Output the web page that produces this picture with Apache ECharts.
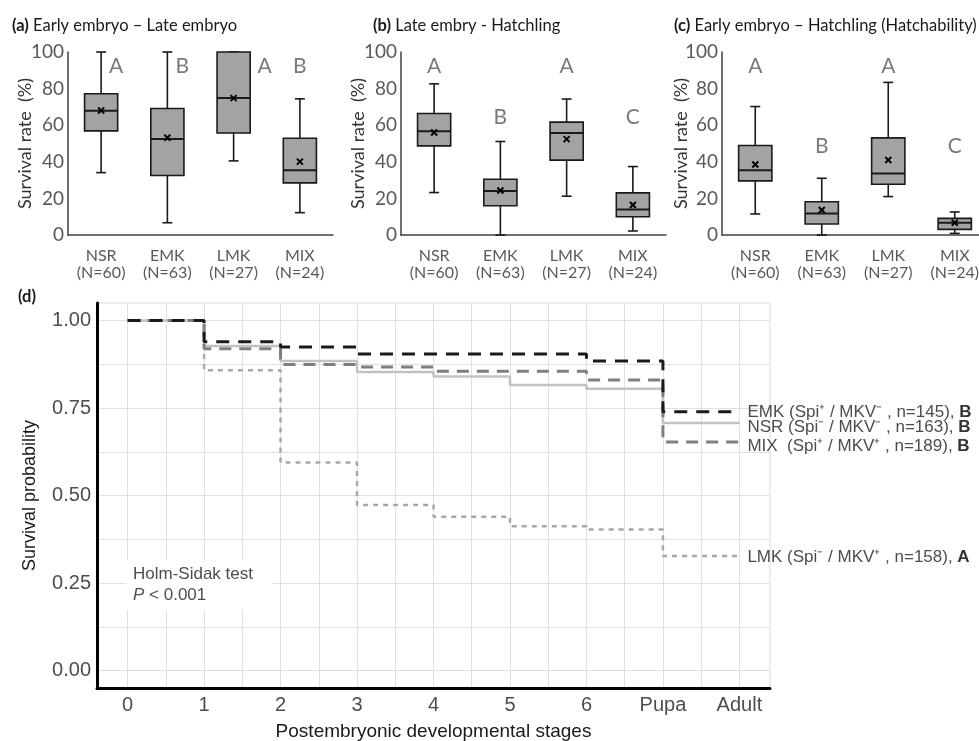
<!DOCTYPE html>
<html>
<head>
<meta charset="utf-8">
<script src="https://cdn.jsdelivr.net/npm/echarts@6/dist/echarts.min.js"></script>
<style>
  html, body { margin: 0; background: #fff; }
  #main { width: 979px; height: 741px; }
</style>
</head>
<body>
<div id="main"></div>
<script>
// groups shared by panels a-c
const groups = ['NSR', 'EMK', 'LMK', 'MIX'];
const groupN = [60, 63, 27, 24];

// box stats per group: [min, q1, median, q3, max]
const boxA = [[34.1, 56.9, 67.9, 77.2, 100], [6.7, 32.5, 52.4, 69.1, 100], [40.5, 55.7, 74.8, 100, 100], [12.2, 28.5, 35.4, 52.9, 74.4]];
const meanA = [68.0, 53.1, 74.8, 40.1];
const letterA = ['A', 'B', 'A', 'B'];
const letterYA = [92, 92, 92, 92];

const boxB = [[23.2, 48.7, 56.7, 66.4, 82.6], [0, 16.0, 24.1, 30.5, 51.1], [21.2, 40.9, 55.8, 61.7, 74.3], [2.2, 10.0, 13.9, 23.0, 37.4]];
const meanB = [56.0, 24.3, 52.4, 16.4];
const letterB = ['A', 'B', 'A', 'C'];
const letterYB = [92, 64.4, 92, 64.4];

const boxC = [[11.5, 29.6, 35.4, 48.9, 70.2], [0, 6.0, 11.7, 18.2, 31.0], [21.0, 27.7, 33.6, 53.1, 83.4], [0.9, 3.1, 6.7, 9.1, 12.6]];
const meanC = [38.5, 13.7, 41.0, 6.7];
const letterC = ['A', 'B', 'A', 'C'];
const letterYC = [92, 48.3, 92, 48.3];

// panel d: survival at each stage (value holds until next stage)
const stages = ['0', '1', '2', '3', '4', '5', '6', 'Pupa', 'Adult'];
const survEMK = [1, 0.939, 0.924, 0.904, 0.904, 0.904, 0.884, 0.739, 0.739];
const survNSR = [1, 0.927, 0.884, 0.853, 0.840, 0.816, 0.805, 0.707, 0.707];
const survMIX = [1, 0.919, 0.874, 0.867, 0.855, 0.855, 0.830, 0.653, 0.653];
const survLMK = [1, 0.858, 0.594, 0.473, 0.439, 0.412, 0.403, 0.327, 0.327];

const labelEMK = ['EMK (Spi⁺ / MKV⁻ , n=145), ', 'B'];
const labelNSR = ['NSR (Spi⁻ / MKV⁻ , n=163), ', 'B'];
const labelMIX = ['MIX  (Spi⁺ / MKV⁺ , n=189), ', 'B'];
const labelLMK = ['LMK (Spi⁻ / MKV⁺ , n=158), ', 'A'];

const chart = echarts.init(document.getElementById('main'));

const topFont = 'Lato';
const dFont = '"Liberation Sans", Arial';
// letters in panel a sit beside the whiskers
const letterShiftA = [15, 15, 31, 0];

function renderBox(params, api) {
  const idx = api.value(0);
  const lo = api.coord([idx, api.value(1)]);
  const q1 = api.coord([idx, api.value(2)]);
  const md = api.coord([idx, api.value(3)]);
  const q3 = api.coord([idx, api.value(4)]);
  const hi = api.coord([idx, api.value(5)]);
  const mn = api.coord([idx, api.value(6)]);
  const half = api.size([1, 0])[0] * 0.25;
  const cap = half * 0.3;
  const x = lo[0];
  const ln = { stroke: '#1a1a1a', lineWidth: 1.6 };
  return {
    type: 'group',
    children: [
      { type: 'line', shape: { x1: x, y1: hi[1], x2: x, y2: lo[1] }, style: ln },
      { type: 'line', shape: { x1: x - cap, y1: hi[1], x2: x + cap, y2: hi[1] }, style: ln },
      { type: 'line', shape: { x1: x - cap, y1: lo[1], x2: x + cap, y2: lo[1] }, style: ln },
      { type: 'rect', shape: { x: x - half, y: q3[1], width: half * 2, height: q1[1] - q3[1] },
        style: { fill: '#a3a3a3', stroke: '#1a1a1a', lineWidth: 1.6 } },
      { type: 'line', shape: { x1: x - half, y1: md[1], x2: x + half, y2: md[1] }, style: { stroke: '#1a1a1a', lineWidth: 2 } },
      { type: 'line', shape: { x1: mn[0] - 3, y1: mn[1] - 3, x2: mn[0] + 3, y2: mn[1] + 3 }, style: { stroke: '#000', lineWidth: 2 } },
      { type: 'line', shape: { x1: mn[0] - 3, y1: mn[1] + 3, x2: mn[0] + 3, y2: mn[1] - 3 }, style: { stroke: '#000', lineWidth: 2 } }
    ]
  };
}

const grids = [], xAxes = [], yAxes = [], series = [];

function boxPanel(i, left, width, nameGap, box, mean, letters, letterY, shift) {
  grids.push({ left: left, top: 52, width: width, height: 183, outerBoundsMode: 'none' });
  xAxes.push({
    type: 'category', gridIndex: i, data: groups,
    axisLine: { onZero: false, lineStyle: { color: '#404040', width: 1.5 } },
    axisTick: { show: false },
    axisLabel: {
      margin: 12, fontFamily: topFont, fontSize: 16, color: '#595959', lineHeight: 17,
      formatter: (v, k) => v + '\n(N=' + groupN[k] + ')'
    }
  });
  yAxes.push({
    type: 'value', gridIndex: i, min: 0, max: 100, interval: 20,
    name: 'Survival rate  (%)', nameLocation: 'middle', nameGap: nameGap, nameMoveOverlap: false,
    nameTextStyle: { fontFamily: topFont, fontSize: 18, color: '#333' },
    axisLine: { show: true, onZero: false, lineStyle: { color: '#404040', width: 1.5 } },
    axisTick: { show: false },
    splitLine: { show: false },
    axisLabel: { margin: 4, fontFamily: topFont, fontSize: 19, color: '#595959' }
  });
  series.push({
    type: 'custom', xAxisIndex: i, yAxisIndex: i, silent: true,
    renderItem: renderBox,
    encode: { x: 0, y: [1, 2, 3, 4, 5] },
    data: box.map((b, k) => [k].concat(b, [mean[k]]))
  });
  // significance letters
  series.push({
    type: 'custom', xAxisIndex: i, yAxisIndex: i, silent: true,
    encode: { x: 0, y: 1 },
    renderItem: (params, api) => {
      const p = api.coord([api.value(0), api.value(1)]);
      const k = params.dataIndex;
      return {
        type: 'text',
        style: {
          x: p[0] + (shift ? shift[k] : 0), y: p[1],
          text: letters[k], align: 'center', verticalAlign: 'middle',
          font: '21px Lato', fill: '#7a7a7a'
        }
      };
    },
    data: letterY.map((y, k) => [k, y])
  });
}

boxPanel(0, 68, 265, 34, boxA, meanA, letterA, letterYA, letterShiftA);
boxPanel(1, 401, 265, 34, boxB, meanB, letterB, letterYB, null);
boxPanel(2, 722, 266, 32, boxC, meanC, letterC, letterYC, null);

// panel d
grids.push({ left: 97, right: 209, top: 303, bottom: 53, outerBoundsMode: 'none', show: true, borderColor: '#d9d9d9', borderWidth: 1 });
const halfSteps = [], quarterY = [], eighthY = [];
for (let k = 0; k <= 16; k++) halfSteps.push(k / 2);
for (let k = 0; k <= 8; k++) eighthY.push(k / 8);
for (let k = 0; k <= 4; k++) quarterY.push(k / 4);

xAxes.push({
  type: 'value', gridIndex: 3, min: -0.4, max: 8.4,
  name: 'Postembryonic developmental stages', nameLocation: 'middle', nameGap: 34, nameMoveOverlap: false,
  nameTextStyle: { fontFamily: dFont, fontSize: 19, color: '#1a1a1a' },
  axisLine: { onZero: false, lineStyle: { color: '#000', width: 3 } },
  axisTick: { show: false, customValues: halfSteps },
  splitLine: { show: true, lineStyle: { color: '#e0e0e0', width: 1 } },
  axisLabel: {
    margin: 7, fontFamily: dFont, fontSize: 20, color: '#4d4d4d',
    customValues: [0, 1, 2, 3, 4, 5, 6, 7, 8],
    formatter: v => stages[Math.round(v)]
  }
});
yAxes.push({
  type: 'value', gridIndex: 3, min: -0.05, max: 1.05,
  name: 'Survival probability', nameLocation: 'middle', nameGap: 58, nameMoveOverlap: false,
  nameTextStyle: { fontFamily: dFont, fontSize: 18, color: '#1a1a1a' },
  axisLine: { show: true, onZero: false, lineStyle: { color: '#000', width: 3 } },
  axisTick: { show: false, customValues: eighthY },
  splitLine: { show: true, lineStyle: { color: '#e0e0e0', width: 1 } },
  axisLabel: {
    margin: 6, fontFamily: dFont, fontSize: 20, color: '#4d4d4d',
    customValues: quarterY,
    formatter: v => v.toFixed(2)
  }
});

function survLine(vals, color, width, dash, lbl, dy) {
  return {
    type: 'line', xAxisIndex: 3, yAxisIndex: 3, step: 'end', symbol: 'none', silent: true,
    lineStyle: { color: color, width: width, type: dash },
    data: vals.map((v, k) => [k, v]),
    endLabel: {
      show: true, distance: 8, offset: [0, dy],
      formatter: () => '{n|' + lbl[0] + '}{b|' + lbl[1] + '}',
      rich: {
        n: { fontFamily: dFont, fontSize: 17, color: '#4d4d4d' },
        b: { fontFamily: dFont, fontSize: 17, color: '#333', fontWeight: 'bold' }
      }
    }
  };
}

series.push(survLine(survLMK, '#a8a8a8', 2.5, [5, 5], labelLMK, 1));
series.push(survLine(survNSR, '#c2c2c2', 2.5, 'solid', labelNSR, 4));
series.push(survLine(survMIX, '#7f7f7f', 3, [12, 8], labelMIX, 4));
series.push(survLine(survEMK, '#1a1a1a', 3, [13, 9], labelEMK, 0));

const titleStyle = (txt) => ({
  text: txt, padding: 0,
  textStyle: {
    fontFamily: topFont, fontSize: 16.5, fontWeight: 'normal', color: '#1a1a1a',
    rich: { b: { fontFamily: topFont, fontSize: 16.5, fontWeight: 'bold', color: '#1a1a1a' } }
  }
});

const option = {
  backgroundColor: '#fff',
  animation: false,
  title: [
    Object.assign(titleStyle('{b|(a)} Early embryo – Late embryo'), { left: 12, top: 17 }),
    Object.assign(titleStyle('{b|(b)} Late embry - Hatchling'), { left: 373, top: 17 }),
    Object.assign(titleStyle('{b|(c)} Early embryo – Hatchling (Hatchability)'), { left: 674, top: 17 }),
    Object.assign(titleStyle('{b|(d)}'), { left: 18, top: 288 })
  ],
  grid: grids,
  xAxis: xAxes,
  yAxis: yAxes,
  series: series,
  graphic: [{
    type: 'text', left: 126, top: 560, z: 10,
    style: {
      text: 'Holm-Sidak test\n{i|P} < 0.001',
      font: '17px "Liberation Sans", Arial',
      fill: '#4d4d4d', lineHeight: 21,
      backgroundColor: '#fff', padding: [4, 20, 4, 7],
      rich: { i: { fontStyle: 'italic', fontFamily: dFont, fontSize: 17, fill: '#4d4d4d' } }
    }
  }]
};

chart.setOption(option);
</script>
</body>
</html>
